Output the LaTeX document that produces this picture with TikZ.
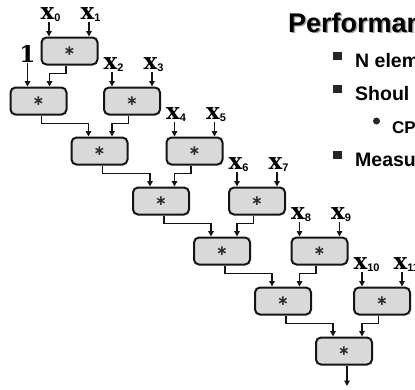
\documentclass[tikz,border=0pt]{standalone}
\usepackage{fontspec}
\setmainfont{Liberation Serif}
\newfontfamily\slidesans{Liberation Sans}
\newfontfamily\labelserif{DejaVu Serif}
\newfontfamily\opglyph{DejaVu Sans}
\usetikzlibrary{
  arrows.meta,
  positioning,
  calc
}
\definecolor{opFill}{HTML}{D9D9D9}
\definecolor{opLine}{HTML}{141414}
\definecolor{opSign}{HTML}{2E2E2E}
\definecolor{tiShadow}{HTML}{A3A3A3}
\definecolor{tiBullet}{HTML}{262626}
% operand label: heavy x with a small sans subscript hanging to the right
\newcommand{\xvar}[1]{x\rlap{\raisebox{-2pt}{\slidesans\bfseries\fontsize{11}{11}\selectfont #1}}}
\newcommand{\mulsign}{{\opglyph\bfseries\fontsize{14}{14}\selectfont\color{opSign}∗}}
\tikzset{
  opbox/.style={
    draw=opLine, line width=2pt, fill=opFill, rounded corners=5pt,
    minimum width=56pt, minimum height=27pt, inner sep=0pt
  },
  wire/.style={line width=1.8pt, draw=opLine, -{Triangle[length=5.5pt, width=5.5pt]}},
  inlabel/.style={inner sep=0pt, anchor=south, font=\labelserif\bfseries\fontsize{23}{23}\selectfont},
  slidetitle/.style={anchor=base west, inner sep=0pt, font=\slidesans\bfseries\fontsize{27}{27}\selectfont},
  bulletitem/.style={anchor=base west, inner sep=0pt, font=\slidesans\bfseries\fontsize{19.5}{19.5}\selectfont},
  subbullet/.style={anchor=base west, inner sep=0pt, font=\slidesans\bfseries\fontsize{17}{17}\selectfont},
  sqbullet/.style={fill=tiBullet, inner sep=0pt, minimum size=8.5pt},
  dotbullet/.style={circle, fill=tiBullet, inner sep=0pt, minimum size=7pt}
}

\begin{document}
\begin{tikzpicture}[x=1pt, y=-1pt]
  \useasboundingbox (0,0) rectangle (415,389);
  \clip (0,0) rectangle (415,389);

  % pair products
  \node[opbox] (m0) at (69.5,51) {\mulsign};
  \node[opbox] (m1) at (132,101) {\mulsign};
  \node[opbox] (m2) at (194.5,151) {\mulsign};
  \node[opbox] (m3) at (257,201) {\mulsign};
  \node[opbox] (m4) at (319.5,251) {\mulsign};
  \node[opbox] (m5) at (382,301) {\mulsign};
  % running product
  \node[opbox] (p1) at (38.5,101) {\mulsign};
  \node[opbox] (p2) at (99.5,151) {\mulsign};
  \node[opbox] (p3) at (161,201) {\mulsign};
  \node[opbox] (p4) at (222,251) {\mulsign};
  \node[opbox] (p5) at (283,301) {\mulsign};
  \node[opbox] (p6) at (344,351) {\mulsign};
  \coordinate (out) at (347,386);

  % inputs
  \node[inlabel] (one) at (27.5,63) {1};
  \node[inlabel] (x0) at (47.5,22) {\xvar{0}};
  \node[inlabel] (x1) at (87.5,22) {\xvar{1}};
  \node[inlabel] (x2) at (110.5,72) {\xvar{2}};
  \node[inlabel] (x3) at (150.5,72) {\xvar{3}};
  \node[inlabel] (x4) at (173,122) {\xvar{4}};
  \node[inlabel] (x5) at (213,122) {\xvar{5}};
  \node[inlabel] (x6) at (235.5,172) {\xvar{6}};
  \node[inlabel] (x7) at (275.5,172) {\xvar{7}};
  \node[inlabel] (x8) at (298,222) {\xvar{8}};
  \node[inlabel] (x9) at (338,222) {\xvar{9}};
  \node[inlabel] (x10) at (360.5,272) {\xvar{10}};
  \node[inlabel] (x11) at (400.5,272) {\xvar{11}};

  \foreach \a/\b in {x0/m0, x1/m0, x2/m1, x3/m1, x4/m2, x5/m2,
                     x6/m3, x7/m3, x8/m4, x9/m4, x10/m5, x11/m5}
    \draw[wire] ([xshift=1.5pt]\a.south) -- ([xshift=1.5pt]\a.south |- \b.north);
  \draw[wire] (one.south) -- (one.south |- p1.north);
  \foreach \a/\b in {p1/p2, p2/p3, p3/p4, p4/p5, p5/p6}
    \draw[wire] ([xshift=3pt]\a.south) -- ++(0,8) -| ([xshift=-11pt]\b.north);
  \foreach \a/\b in {m0/p1, m1/p2, m2/p3, m3/p4, m4/p5, m5/p6}
    \draw[wire] ([xshift=-3.5pt]\a.south) -- ++(0,8) -| ([xshift=-20pt]\a.south |- \b.north);
  \draw[wire] ([xshift=3pt]p6.south) -- (out);

  % slide text, cut by the frame
  \node[slidetitle, text=tiShadow] (shade) at (289.5,33.5) {Performan};
  \node[slidetitle] (title) at (288,32) {Performan};
  \node[sqbullet] (b1) at (337.5,56) {};
  \node[bulletitem] (t1) at (355,67) {N elem};
  \node[sqbullet] (b2) at (337.5,89) {};
  \node[bulletitem] (t2) at (355,100) {Shoul};
  \node[dotbullet] (b3) at (376.5,121) {};
  \node[subbullet] (t3) at (392,133) {CP};
  \node[sqbullet] (b4) at (337.5,155) {};
  \node[bulletitem] (t4) at (355,166) {Measu};
\end{tikzpicture}
\end{document}
